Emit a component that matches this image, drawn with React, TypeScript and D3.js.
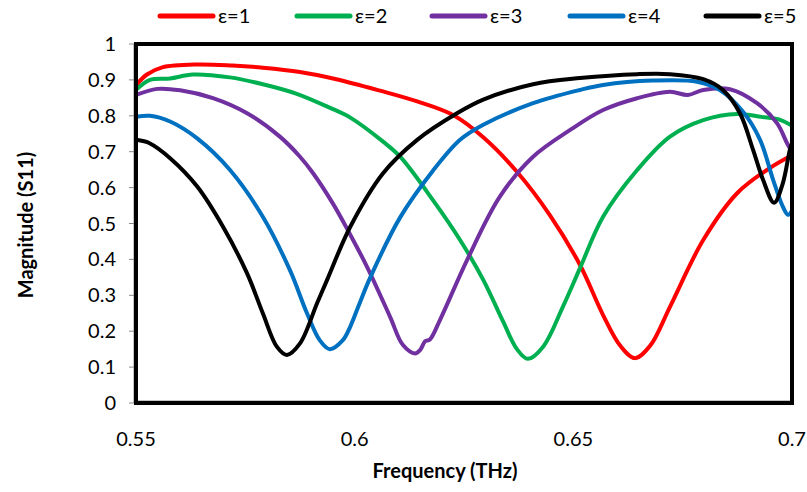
import React from "react";
import * as d3 from "d3";

const seriesNames = ["ε=1", "ε=2", "ε=3", "ε=4", "ε=5"];
const seriesColors = ["#ff0000", "#00b050", "#7030a0", "#0070c0", "#000000"];

const eps1: [number, number][] = [
  [0.55, 0.885], [0.5525, 0.915], [0.556, 0.935], [0.564, 0.943], [0.572, 0.94], [0.579, 0.934],
  [0.5875, 0.922], [0.5958, 0.902], [0.6058, 0.87], [0.6143, 0.84], [0.6225, 0.802], [0.6294, 0.74],
  [0.6371, 0.644], [0.6447, 0.522], [0.6515, 0.385], [0.6568, 0.245], [0.6607, 0.16], [0.6641, 0.125],
  [0.6676, 0.16], [0.6721, 0.268], [0.6797, 0.454], [0.6875, 0.585], [0.695, 0.655], [0.7, 0.69],
];
const eps2: [number, number][] = [
  [0.55, 0.872], [0.5532, 0.9], [0.5578, 0.904], [0.563, 0.915], [0.5715, 0.907], [0.579, 0.888],
  [0.5866, 0.862], [0.5944, 0.822], [0.599, 0.795], [0.6065, 0.728], [0.6104, 0.686], [0.6179, 0.565],
  [0.6241, 0.454], [0.6294, 0.343], [0.6339, 0.228], [0.6371, 0.15], [0.6396, 0.123], [0.6431, 0.157],
  [0.6476, 0.268], [0.6515, 0.375], [0.6568, 0.519], [0.6646, 0.649], [0.6721, 0.742], [0.6797, 0.788],
  [0.6875, 0.805], [0.693, 0.797], [0.697, 0.79], [0.7, 0.772],
];
const eps3: [number, number][] = [
  [0.55, 0.858], [0.5548, 0.875], [0.5601, 0.871], [0.5676, 0.849], [0.5754, 0.807], [0.5829, 0.742],
  [0.5875, 0.686], [0.5905, 0.64], [0.595, 0.556], [0.5985, 0.48], [0.6028, 0.38], [0.6081, 0.24],
  [0.611, 0.162], [0.6138, 0.138], [0.615, 0.148], [0.6161, 0.172], [0.6172, 0.177], [0.6195, 0.231],
  [0.6257, 0.398], [0.6332, 0.575], [0.6408, 0.686], [0.6492, 0.76], [0.6568, 0.816], [0.6646, 0.849],
  [0.6721, 0.867], [0.6762, 0.858], [0.6797, 0.872], [0.6858, 0.874], [0.692, 0.835], [0.6966, 0.779],
  [0.6989, 0.723], [0.7, 0.7],
];
const eps4: [number, number][] = [
  [0.55, 0.797], [0.5532, 0.8], [0.5578, 0.784], [0.564, 0.737], [0.5715, 0.649], [0.579, 0.519],
  [0.5852, 0.37], [0.5891, 0.25], [0.592, 0.175], [0.5943, 0.15], [0.5973, 0.175], [0.599, 0.213],
  [0.6012, 0.28], [0.6035, 0.348], [0.6104, 0.517], [0.6179, 0.647], [0.6241, 0.733], [0.6294, 0.775],
  [0.6408, 0.835], [0.6515, 0.872], [0.6568, 0.886], [0.6682, 0.898], [0.6783, 0.895], [0.6835, 0.872],
  [0.6888, 0.811], [0.6927, 0.733], [0.6957, 0.621], [0.6979, 0.547], [0.6991, 0.524], [0.7, 0.535],
];
const eps5: [number, number][] = [
  [0.55, 0.733], [0.5532, 0.723], [0.5578, 0.682], [0.564, 0.603], [0.5699, 0.491], [0.5754, 0.361],
  [0.579, 0.25], [0.5822, 0.157], [0.5845, 0.134], [0.5875, 0.166], [0.5914, 0.278], [0.5937, 0.343],
  [0.599, 0.491], [0.6065, 0.64], [0.6143, 0.733], [0.6234, 0.807], [0.6294, 0.845], [0.6408, 0.888],
  [0.6515, 0.905], [0.6646, 0.916], [0.6721, 0.916], [0.6797, 0.902], [0.6842, 0.872], [0.6881, 0.807],
  [0.6911, 0.705], [0.6934, 0.621], [0.6959, 0.558], [0.6979, 0.612], [0.6995, 0.705], [0.7, 0.724],
];
const allSeries = [eps1, eps2, eps3, eps4, eps5];

const xTicks = [0.55, 0.6, 0.65, 0.7];
const xTickLabels = ["0.55", "0.6", "0.65", "0.7"];
const yTicks = [0, 0.1, 0.2, 0.3, 0.4, 0.5, 0.6, 0.7, 0.8, 0.9, 1];
const yTickLabels = ["0", "0.1", "0.2", "0.3", "0.4", "0.5", "0.6", "0.7", "0.8", "0.9", "1"];

const W = 807, H = 492;
const L = 136, R = 792, T = 44, B = 403;
const FONT = "Lato, 'Open Sans', sans-serif";

export default function App() {
  const x = d3.scaleLinear().domain([0.55, 0.7]).range([L, R]);
  const y = d3.scaleLinear().domain([0, 1]).range([B, T]);
  const line = d3.line<[number, number]>().x(d => x(d[0])).y(d => y(d[1])).curve(d3.curveCatmullRom.alpha(0.5));

  const legendX = [160, 297, 432, 570, 706];

  return (
    <div style={{ position: "fixed", left: 0, top: 0, width: W, height: H, background: "#fff" }}>
      <svg width={W} height={H} viewBox={`0 0 ${W} ${H}`} style={{ display: "block" }}>
        <defs>
          <clipPath id="plotclip">
            <rect x={L} y={T} width={R - L} height={B - T} />
          </clipPath>
        </defs>
        <line x1={L - 2} x2={L - 2} y1={T} y2={B} stroke="#888" strokeWidth={1} />
        {yTicks.map((t, i) => (
          <line key={"yt" + i} x1={L - 7} x2={L - 2} y1={y(t)} y2={y(t)} stroke="#888" strokeWidth={1} />
        ))}
        <line x1={L} x2={R + 1} y1={B - 2} y2={B - 2} stroke="#888" strokeWidth={1} />
        <line x1={R + 1} x2={R + 1} y1={T} y2={B} stroke="#888" strokeWidth={1} />

        <g clipPath="url(#plotclip)">
          {allSeries.map((s, i) => (
            <path key={i} d={line(s) || ""} fill="none" stroke={seriesColors[i]} strokeWidth={4}
              strokeLinejoin="round" strokeLinecap="round" />
          ))}
        </g>
        <rect x={L} y={T} width={R - L} height={B - T} fill="none" stroke="#000" strokeWidth={4} />

        {yTicks.map((t, i) => (
          <text key={"yl" + i} x={116} y={y(t)} dy="0.35em" textAnchor="end" fontFamily={FONT}
            fontSize={20} fill="#000">{yTickLabels[i]}</text>
        ))}
        {xTicks.map((t, i) => (
          <text key={"xl" + i} x={x(t)} y={446} textAnchor="middle" fontFamily={FONT}
            fontSize={20} fill="#000">{xTickLabels[i]}</text>
        ))}
        <text x={445} y={478} textAnchor="middle" fontFamily={FONT} fontSize={20} fontWeight="bold">
          Frequency (THz)
        </text>
        <text transform={`translate(33,225) rotate(-90)`} textAnchor="middle" fontFamily={FONT}
          fontSize={20} fontWeight="bold">Magnitude (S11)</text>

        {seriesNames.map((n, i) => (
          <g key={"lg" + i}>
            <line x1={legendX[i]} x2={legendX[i] + 53} y1={16} y2={16} stroke={seriesColors[i]}
              strokeWidth={5} strokeLinecap="round" />
            <text x={legendX[i] + 58} y={16} dy="0.35em" fontFamily={FONT} fontSize={20}>{n}</text>
          </g>
        ))}
      </svg>
    </div>
  );
}
